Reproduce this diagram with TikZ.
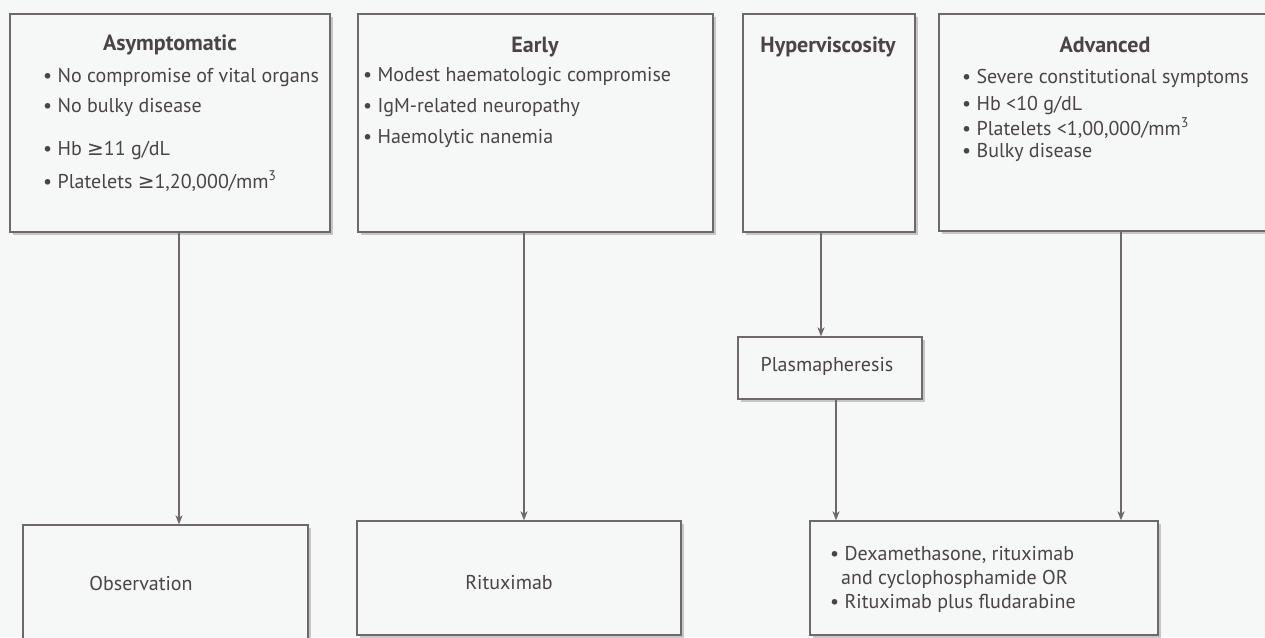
\documentclass[tikz,border=0pt]{standalone}
\usepackage{fontspec}
\setmainfont{PT Sans}
\newfontfamily\symf{DejaVu Sans}
\usetikzlibrary{arrows.meta,shadows}

\definecolor{ink}{HTML}{4A4444}
\definecolor{rule}{HTML}{6E6866}
\definecolor{paper}{HTML}{F6F7F7}

\tikzset{
  box/.style={draw=rule, line width=1.3pt, fill=paper, inner sep=0pt,
    drop shadow={shadow xshift=2.5pt, shadow yshift=-2.5pt, fill=black!35, opacity=0.6}},
  line/.style={text=ink, font=\fontsize{20}{24}\selectfont, inner sep=0pt, anchor=west},
  title/.style={text=ink, font=\fontsize{22}{26}\selectfont\bfseries, inner sep=0pt},
  label/.style={text=ink, font=\fontsize{20}{24}\selectfont, inner sep=0pt},
  arr/.style={draw=rule, line width=1.3pt,
    -{Stealth[length=9pt, width=7pt, inset=2.5pt]}}
}

\begin{document}
\begin{tikzpicture}[x=1pt, y=-1pt]
  \useasboundingbox (0,0) rectangle (1265,637);
  \fill[paper] (0,0) rectangle (1265,637);

  % stage boxes
  \node[box, minimum width=320pt, minimum height=218pt] (asym)  at (170,123) {};
  \node[box, minimum width=355pt, minimum height=218pt] (early) at (535.5,123) {};
  \node[box, minimum width=172pt, minimum height=218pt] (hyper) at (829,123) {};
  \node[box, minimum width=332pt, minimum height=217pt] (adv)   at (1105,122.5) {};

  % treatment boxes
  \node[box, minimum width=184pt, minimum height=62pt]  (plasma) at (830,368) {};
  \node[box, minimum width=285pt, minimum height=125pt] (obs)    at (165.5,587.5) {};
  \node[box, minimum width=324pt, minimum height=114pt] (ritux)  at (519,578) {};
  \node[box, minimum width=348pt, minimum height=114pt] (combo)  at (984,578) {};

  % Asymptomatic
  \node[title] (asymT) at (170,45) {Asymptomatic};
  \node[line] (asym1) at (43,78)  {• No compromise of vital organs};
  \node[line] (asym2) at (43,107) {• No bulky disease};
  \node[line] (asym3) at (43,150) {• Hb {\symf ≥}11 g/dL};
  \node[line] (asym4) at (43,181) {• Platelets {\symf ≥}1,20,000/mm\textsuperscript{3}};

  % Early
  \node[title] (earlyT) at (535,47) {Early};
  \node[line] (early1) at (363,77)  {• Modest haematologic compromise};
  \node[line] (early2) at (363,108) {• IgM-related neuropathy};
  \node[line] (early3) at (363,138) {• Haemolytic nanemia};

  % Hyperviscosity
  \node[title] (hyperT) at (828,47) {Hyperviscosity};

  % Advanced
  \node[title] (advT) at (1105,45) {Advanced};
  \node[line] (adv1) at (962,78)  {• Severe constitutional symptoms};
  \node[line] (adv2) at (962,105) {• Hb <10 g/dL};
  \node[line] (adv3) at (962,128) {• Platelets <1,00,000/mm\textsuperscript{3}};
  \node[line] (adv4) at (962,152) {• Bulky disease};

  % treatments
  \node[label] (plasmaT) at (827,366) {Plasmapheresis};
  \node[label] (obsT)    at (141,583) {Observation};
  \node[label] (rituxT)  at (509,583) {Rituximab};
  \node[line] (combo1) at (830,555) {• Dexamethasone, rituximab};
  \node[line] (combo2) at (841,579) {and cyclophosphamide OR};
  \node[line] (combo3) at (830,603) {• Rituximab plus fludarabine};

  % connectors
  \draw[arr] ([xshift=9pt]asym.south)    -- ([xshift=9pt]asym.south |- obs.north);
  \draw[arr] ([xshift=-11.5pt]early.south) -- ([xshift=-11.5pt]early.south |- ritux.north);
  \draw[arr] ([xshift=-8pt]hyper.south)  -- ([xshift=-8pt]hyper.south |- plasma.north);
  \draw[arr] ([xshift=6pt]plasma.south)  -- ([xshift=6pt]plasma.south |- combo.north);
  \draw[arr] ([xshift=16pt]adv.south)    -- ([xshift=16pt]adv.south |- combo.north);
\end{tikzpicture}
\end{document}
